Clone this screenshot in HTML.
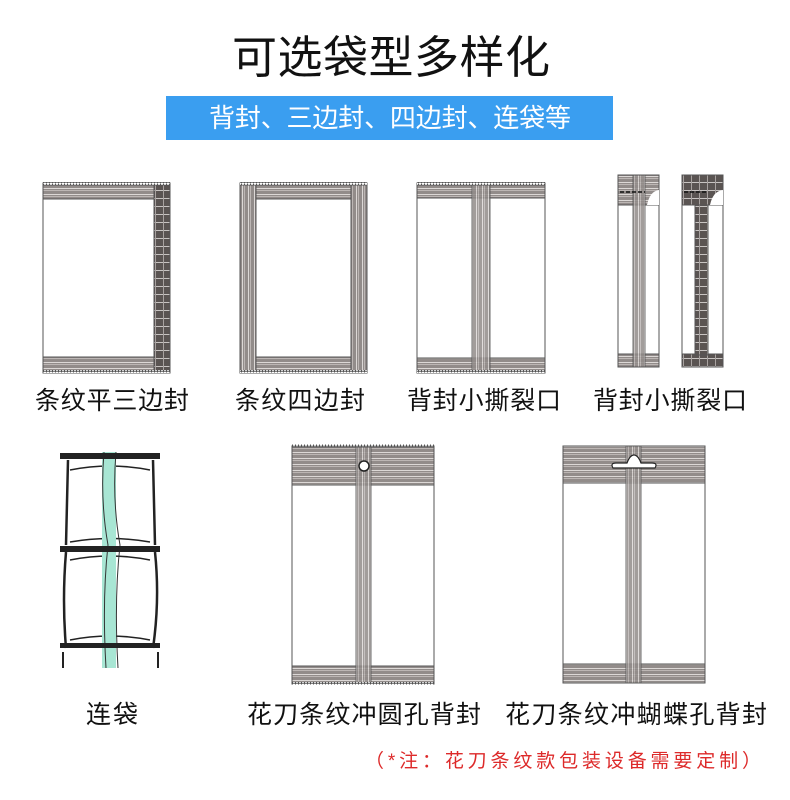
<!DOCTYPE html>
<html><head><meta charset="utf-8"><style>
html,body{margin:0;padding:0;background:#fff;}
svg{display:block;}
text{font-family:"Liberation Sans","Noto Sans CJK SC",sans-serif;}
</style></head><body>
<svg width="790" height="800" viewBox="0 0 790 800" xmlns="http://www.w3.org/2000/svg">
<defs>
<pattern id="hs" width="4" height="6" patternUnits="userSpaceOnUse"><rect width="4" height="6" fill="#928c8a"/><rect y="2" width="4" height="1" fill="#dcd8d6"/><rect y="4" width="4" height="1" fill="#bcb6b4"/></pattern>
<pattern id="vs" width="6" height="4" patternUnits="userSpaceOnUse"><rect width="6" height="4" fill="#928c8a"/><rect x="2" width="1" height="4" fill="#dcd8d6"/><rect x="4" width="1" height="4" fill="#bcb6b4"/></pattern>
<pattern id="grid" width="8" height="8" patternUnits="userSpaceOnUse"><rect width="8" height="8" fill="#5a5452"/><rect y="6" width="8" height="1" fill="#c8c4c2"/><rect x="3" width="1" height="8" fill="#a8a2a0"/></pattern>
<pattern id="zig" width="3" height="3" patternUnits="userSpaceOnUse"><rect width="3" height="3" fill="#fff"/><path d="M0 3 L1.5 0 L3 3Z" fill="#555"/></pattern>
</defs>
<rect width="790" height="800" fill="#fff"/>
<text x="391" y="73" font-size="45" text-anchor="middle" textLength="318" fill="#111">可选袋型多样化</text>
<rect x="166" y="96" width="447" height="44" fill="#3a9ef0"/>
<text x="390" y="127" font-size="26" text-anchor="middle" textLength="362" fill="#fff">背封、三边封、四边封、连袋等</text>

<g stroke="#555" stroke-width="1">
<rect x="43" y="183" width="127" height="190" fill="#fff"/>
<rect x="43" y="185" width="127" height="14" fill="url(#hs)"/>
<rect x="43" y="357" width="127" height="14" fill="url(#hs)"/>
<rect x="154" y="185" width="16" height="186" fill="url(#grid)"/>
</g>
<rect x="43" y="182" width="127" height="3" fill="url(#zig)"/><rect x="43" y="370" width="127" height="3" fill="url(#zig)"/>
<g stroke="#555" stroke-width="1">
<rect x="240" y="183" width="127" height="190" fill="#fff"/>
<rect x="240" y="185" width="127" height="14" fill="url(#hs)"/>
<rect x="240" y="357" width="127" height="14" fill="url(#hs)"/>
<rect x="240" y="185" width="16" height="186" fill="url(#vs)"/>
<rect x="351" y="185" width="16" height="186" fill="url(#vs)"/>
</g>
<rect x="240" y="182" width="127" height="3" fill="url(#zig)"/><rect x="240" y="370" width="127" height="3" fill="url(#zig)"/>
<g stroke="#555" stroke-width="1">
<rect x="417" y="183" width="128" height="190" fill="#fff"/>
<rect x="417" y="185" width="128" height="13" fill="url(#hs)"/>
<rect x="417" y="358" width="128" height="13" fill="url(#hs)"/>
<rect x="472" y="185" width="18" height="186" fill="url(#vs)" opacity="0.85"/>
</g>
<rect x="417" y="182" width="128" height="3" fill="url(#zig)"/><rect x="417" y="370" width="128" height="3" fill="url(#zig)"/>
<g stroke="#555" stroke-width="1">
<rect x="618" y="175" width="41" height="192" fill="#fff" rx="2"/>
<rect x="618" y="175" width="41" height="30" fill="url(#hs)"/>
<rect x="618" y="354" width="41" height="13" fill="url(#hs)"/>
<rect x="633" y="175" width="12" height="192" fill="url(#vs)" opacity="0.85"/>
</g>
<path d="M647 205 Q650 191 659 190 L659 205Z" fill="#fff"/>
<line x1="620" y1="192" x2="645" y2="192" stroke="#111" stroke-width="1.5" stroke-dasharray="4 2"/>
<g stroke="#555" stroke-width="1">
<rect x="682" y="175" width="41" height="192" fill="#fff" rx="2"/>
<rect x="682" y="175" width="41" height="30" fill="url(#grid)"/>
<rect x="682" y="354" width="41" height="13" fill="url(#grid)"/>
<rect x="695" y="205" width="13" height="150" fill="url(#grid)"/>
</g>
<path d="M710 205 Q713 191 723 190 L723 205Z" fill="#fff"/>
<line x1="684" y1="192" x2="708" y2="192" stroke="#111" stroke-width="1.5" stroke-dasharray="4 2"/>

<g font-size="25" fill="#111" text-anchor="middle">
<text x="112" y="409" textLength="154">条纹平三边封</text>
<text x="300" y="409" textLength="130">条纹四边封</text>
<text x="484" y="409" textLength="154">背封小撕裂口</text>
<text x="670" y="409" textLength="154">背封小撕裂口</text>
</g>

<g fill="none" stroke="#222" stroke-width="2.5">
<path d="M68 460 L66 545 M153 460 L155 545 M66 552 Q62 600 66 648 M155 552 Q160 600 153 648"/>
<path d="M70 470 Q110 462 150 470 M70 542 Q110 535 150 542 M70 560 Q110 552 150 560 M70 640 Q110 632 150 640" stroke-width="1.5"/>
<path d="M63 652 L63 668 M158 652 L158 668" stroke-width="2"/>
</g>
<rect x="102" y="452" width="14" height="216" fill="#a8e6d4"/>
<path d="M104 452 Q100 500 108 545 Q102 600 106 668" stroke="#333" stroke-width="1" fill="none"/>
<path d="M116 452 Q112 500 120 545 Q114 600 118 668" stroke="#333" stroke-width="1" fill="none"/>
<rect x="60" y="453" width="100" height="6" fill="#222"/>
<rect x="60" y="546" width="100" height="6" fill="#222"/>
<rect x="60" y="643" width="100" height="5" fill="#222"/>

<g stroke="#555" stroke-width="1">
<rect x="292" y="446" width="142" height="238" fill="#fff"/>
<rect x="292" y="447" width="142" height="38" fill="url(#hs)"/>
<rect x="292" y="666" width="142" height="17" fill="url(#hs)"/>
<rect x="356" y="447" width="15" height="236" fill="url(#vs)" opacity="0.85"/>
</g>
<circle cx="364" cy="466" r="5" fill="#fff" stroke="#222" stroke-width="1.5"/>
<rect x="292" y="444" width="142" height="3" fill="url(#zig)"/><rect x="292" y="682" width="142" height="3" fill="url(#zig)"/>
<g stroke="#555" stroke-width="1">
<rect x="563" y="446" width="142" height="237" fill="#fff"/>
<rect x="563" y="446" width="142" height="37" fill="url(#hs)"/>
<rect x="563" y="664" width="142" height="19" fill="url(#hs)"/>
<rect x="626" y="446" width="15" height="237" fill="url(#vs)" opacity="0.85"/>
</g>
<path d="M613 468 Q610 463 616 463 L627 463 Q630 455 634 455 Q638 455 641 463 L652 463 Q658 463 655 468 Z" fill="#fff" stroke="#222" stroke-width="1.2"/>

<g font-size="25" fill="#111" text-anchor="middle">
<text x="112" y="723" textLength="52">连袋</text>
<text x="364" y="723" textLength="234">花刀条纹冲圆孔背封</text>
<text x="636" y="723" textLength="262">花刀条纹冲蝴蝶孔背封</text>
</g>
<text x="563" y="767" font-size="19" fill="#dd2a2a" text-anchor="middle" textLength="396">（*注：花刀条纹款包装设备需要定制）</text>
</svg>
</body></html>
